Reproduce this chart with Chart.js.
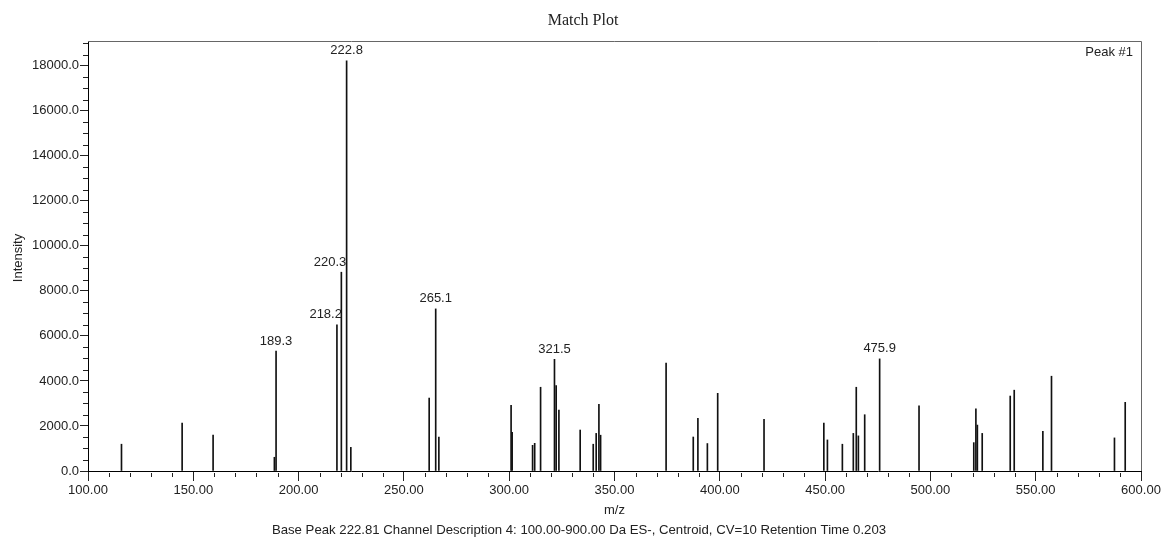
<!DOCTYPE html>
<html><head><meta charset="utf-8">
<script src="https://cdn.jsdelivr.net/npm/chart.js@4.4.1/dist/chart.umd.min.js"></script>
<style>html,body{margin:0;padding:0;background:#fff}#wrap{width:1163px;height:538px}</style>
</head><body><div id="wrap"><canvas id="c" width="1163" height="538"></canvas></div>
<script>
// ---- data ----
const mzValues = [115.9, 144.7, 159.4, 188.5, 189.3, 218.2, 220.3, 222.8, 224.8,
  262.0, 265.1, 266.6, 300.9, 301.4, 311.1, 312.1, 314.9, 321.5, 322.3, 323.6,
  333.7, 339.9, 341.3, 342.6, 343.4, 374.5, 387.4, 389.6, 394.1, 399.0, 421.0,
  449.4, 451.1, 458.2, 463.4, 464.8, 465.8, 468.8, 475.9, 494.6, 520.6, 521.6,
  522.3, 524.6, 537.9, 539.8, 553.4, 557.5, 587.4, 592.5];
const intensities = [1190, 2130, 1600, 610, 5330, 6490, 8830, 18220, 1050,
  3240, 7200, 1510, 2920, 1720, 1140, 1230, 3720, 4960, 3790, 2710,
  1820, 1190, 1670, 2960, 1590, 4790, 1510, 2340, 1220, 3450, 2300,
  2130, 1380, 1190, 1670, 3720, 1560, 2500, 4980, 2890, 1260, 2760,
  2040, 1670, 3330, 3590, 1760, 4210, 1470, 3050];
const labelledPeaks = [189.3, 218.2, 220.3, 222.8, 265.1, 321.5, 475.9];
const xTickLabels = [100, 150, 200, 250, 300, 350, 400, 450, 500, 550, 600];
const yTickLabels = [0, 2000, 4000, 6000, 8000, 10000, 12000, 14000, 16000, 18000];
const chartTitle = 'Match Plot';
const xAxisTitle = 'm/z';
const yAxisTitle = 'Intensity';
const peakTag = 'Peak #1';
const caption = 'Base Peak 222.81 Channel Description 4: 100.00-900.00 Da ES-, Centroid, CV=10 Retention Time 0.203';

const SANS = 'Arial, "Liberation Sans", sans-serif';
const SERIF = '"Times New Roman", "Liberation Serif", serif';
const rightAligned = new Set([218.2, 220.3]);

const decorPlugin = {
  id: 'decor',
  afterDraw(chart) {
    const ctx = chart.ctx, a = chart.chartArea;
    const xs = chart.scales.x, ys = chart.scales.y;
    ctx.save();
    // frame top/right
    ctx.strokeStyle = '#666'; ctx.lineWidth = 1;
    ctx.beginPath();
    ctx.moveTo(a.left, a.top + 0.5); ctx.lineTo(a.right + 0.5, a.top + 0.5);
    ctx.lineTo(a.right + 0.5, a.bottom);
    ctx.stroke();
    // minor ticks
    ctx.strokeStyle = '#222';
    ctx.beginPath();
    xs.ticks.forEach(t => {
      if (t.value % 50 !== 0) {
        const px = Math.round(xs.getPixelForValue(t.value)) + 0.5;
        ctx.moveTo(px, a.bottom + 2); ctx.lineTo(px, a.bottom + 6);
      }
    });
    ys.ticks.forEach(t => {
      if (t.value % 2000 !== 0) {
        const py = Math.round(ys.getPixelForValue(t.value)) + 0.5;
        ctx.moveTo(a.left - 5, py); ctx.lineTo(a.left, py);
      }
    });
    ctx.stroke();
    // peak labels
    ctx.fillStyle = '#222';
    ctx.font = '13px ' + SANS;
    ctx.textBaseline = 'middle';
    labelledPeaks.forEach(mz => {
      const i = mzValues.indexOf(mz);
      const px = xs.getPixelForValue(mz);
      const py = ys.getPixelForValue(intensities[i]);
      if (rightAligned.has(mz)) { ctx.textAlign = 'right'; ctx.fillText(mz.toFixed(1), px + 5, py - 10); }
      else { ctx.textAlign = 'center'; ctx.fillText(mz.toFixed(1), px, py - 10); }
    });
    // peak tag
    ctx.textAlign = 'right';
    ctx.fillText(peakTag, a.right - 8, 52);
    // title
    ctx.textAlign = 'center';
    ctx.font = '16px ' + SERIF;
    ctx.fillText(chartTitle, 583, 21);
    // axis titles
    ctx.font = '13px ' + SANS;
    ctx.fillText(xAxisTitle, (a.left + a.right) / 2, 510);
    ctx.font = '13.2px ' + SANS;
    ctx.fillText(caption, 579, 530);
    ctx.save();
    ctx.translate(18, 258);
    ctx.rotate(-Math.PI / 2);
    ctx.font = '13px ' + SANS;
    ctx.fillText(yAxisTitle, 0, 0);
    ctx.restore();
    ctx.restore();
  }
};

new Chart(document.getElementById('c'), {
  type: 'bar',
  data: {
    datasets: [{
      data: mzValues.map((m, i) => ({ x: m, y: intensities[i] })),
      backgroundColor: '#111',
      borderWidth: 0,
      barThickness: 1
    }]
  },
  options: {
    responsive: false,
    animation: false,
    devicePixelRatio: 1,
    layout: { padding: { top: 41, right: 22, left: 0, bottom: 0 } },
    plugins: { legend: { display: false }, tooltip: { enabled: false }, title: { display: false } },
    scales: {
      x: {
        type: 'linear', min: 100, max: 600, offset: false,
        afterBuildTicks: s => { const t = []; for (let v = 100; v <= 600; v += 10) t.push({ value: v }); s.ticks = t; },
        afterFit: s => { s.height = 67; },
        ticks: {
          autoSkip: false, maxRotation: 0, minRotation: 0, padding: 2,
          color: '#222', font: { family: SANS, size: 13 },
          callback: v => xTickLabels.includes(v) ? v.toFixed(2) : ''
        },
        grid: {
          offset: false, drawOnChartArea: false, drawTicks: true, tickLength: 10,
          color: c => (c.tick && c.tick.value % 50 === 0) ? '#222' : 'rgba(0,0,0,0)'
        },
        border: { display: true, color: '#000', width: 1 }
      },
      y: {
        type: 'linear', min: 0, max: 19100,
        afterBuildTicks: s => { const t = []; for (let v = 0; v <= 19000; v += 500) t.push({ value: v }); s.ticks = t; },
        afterFit: s => { s.width = 88; },
        ticks: {
          autoSkip: false, padding: 1,
          color: '#222', font: { family: SANS, size: 13 },
          callback: v => yTickLabels.includes(v) ? v.toFixed(1) : ''
        },
        grid: {
          drawOnChartArea: false, drawTicks: true, tickLength: 8,
          color: c => (c.tick && c.tick.value % 2000 === 0) ? '#222' : 'rgba(0,0,0,0)'
        },
        border: { display: true, color: '#000', width: 1 }
      }
    }
  },
  plugins: [decorPlugin]
});
</script></body></html>
